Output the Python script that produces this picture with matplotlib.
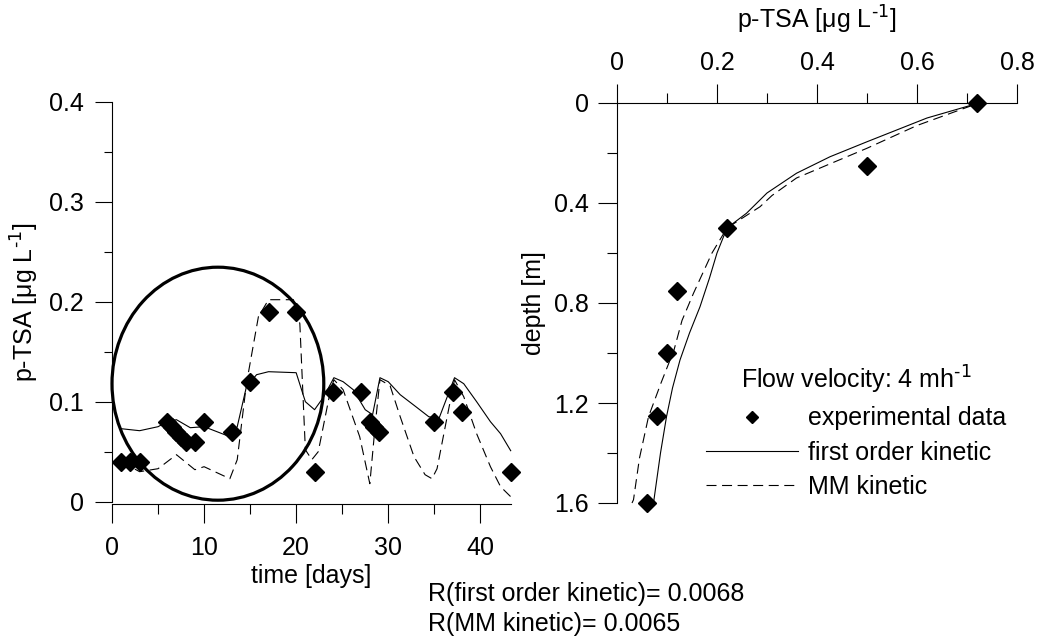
import numpy as np
import matplotlib.pyplot as plt
from matplotlib.patches import Ellipse
from matplotlib.lines import Line2D
from matplotlib.ticker import MultipleLocator, FormatStrFormatter

plt.rcParams['font.family'] = ['Liberation Sans', 'DejaVu Sans']
plt.rcParams['mathtext.default'] = 'regular'
plt.rcParams['font.size'] = 18

# left panel: p-TSA over time
t_obs = [1, 2, 3, 6, 6.5, 7, 7.5, 8, 9, 10, 13, 15, 17, 20, 22, 24, 27, 28, 28.5, 29, 35, 37, 38, 43.3]
c_obs = [0.04, 0.04, 0.04, 0.08, 0.075, 0.07, 0.065, 0.06, 0.06, 0.08, 0.07, 0.12, 0.19, 0.19,
         0.03, 0.11, 0.11, 0.08, 0.075, 0.07, 0.08, 0.11, 0.09, 0.03]

t_first = [1, 3, 5, 6, 7, 8.5, 10, 12.8, 13.6, 14.6, 15.7, 17, 20, 21, 22, 23, 24.1, 25.1, 26.2,
           27.5, 28.3, 29.1, 30, 31.3, 33, 34.4, 35.5, 37.2, 38.2, 39.6, 41.1, 42.2, 43.3]
c_first = [0.073, 0.071, 0.075, 0.08, 0.082, 0.074, 0.075, 0.065, 0.075, 0.115, 0.127, 0.13, 0.129,
           0.1, 0.092, 0.105, 0.124, 0.12, 0.112, 0.092, 0.087, 0.124, 0.12, 0.107, 0.095, 0.085,
           0.083, 0.124, 0.118, 0.1, 0.08, 0.068, 0.051]

t_mm = [1, 3, 5, 7, 9, 10, 12.8, 13.6, 14.6, 15.9, 17, 19.7, 20.4, 21, 21.7, 22.4, 23.7, 24.1, 25.1,
        26.9, 28, 28.6, 29.1, 30.2, 31.3, 32.8, 34, 34.75, 35.3, 36.4, 37.2, 38.2, 39.6, 41.1, 42.2, 43.3]
c_mm = [0.04, 0.03, 0.033, 0.047, 0.032, 0.035, 0.023, 0.042, 0.118, 0.185, 0.202, 0.202, 0.178,
        0.052, 0.042, 0.05, 0.11, 0.122, 0.112, 0.065, 0.018, 0.078, 0.122, 0.116, 0.085, 0.045,
        0.027, 0.023, 0.033, 0.085, 0.122, 0.105, 0.068, 0.035, 0.015, 0.005]

# right panel: depth profile
conc_obs = [0.72, 0.5, 0.22, 0.12, 0.10, 0.08, 0.06]
depth_obs = [0.0, 0.25, 0.5, 0.75, 1.0, 1.25, 1.6]

conc_first = [0.715, 0.62, 0.5, 0.426, 0.359, 0.30, 0.259, 0.22, 0.2, 0.185, 0.166, 0.145,
              0.126, 0.111, 0.099, 0.087, 0.073]
depth_first = [0.005, 0.06, 0.155, 0.215, 0.281, 0.36, 0.441, 0.5, 0.6, 0.7, 0.815, 0.92,
               1.028, 1.14, 1.255, 1.4, 1.6]

conc_mm = [0.71, 0.6, 0.5, 0.43, 0.359, 0.31, 0.286, 0.22, 0.19, 0.153, 0.13, 0.114, 0.088,
           0.063, 0.045, 0.033, 0.03]
depth_mm = [0.01, 0.09, 0.181, 0.24, 0.30, 0.37, 0.415, 0.5, 0.6, 0.761, 0.87, 0.988, 1.12,
            1.255, 1.42, 1.587, 1.6]

dash = (9, 5)
fig = plt.figure(figsize=(10.41, 6.41), dpi=100)

# ---- left
ax1 = fig.add_axes([112 / 1041, 137.3 / 641, 398.7 / 1041, 402 / 641])
ax1.plot(t_first, c_first, color='black', lw=0.8, clip_on=False)
ax1.plot(t_mm, c_mm, color='black', lw=0.8, dashes=dash, clip_on=False)
ax1.plot(t_obs, c_obs, 'D', color='black', ms=9.5, clip_on=False)
ax1.add_patch(Ellipse((11.5, 0.118), 23, 0.233, fill=False, lw=2.3, color='black', clip_on=False))
ax1.set_xlim(0, 43.3)
ax1.set_ylim(-0.002, 0.4)
for s in ['top', 'right']:
    ax1.spines[s].set_visible(False)
ax1.spines['left'].set_bounds(0, 0.4)
ax1.xaxis.set_major_locator(MultipleLocator(10))
ax1.xaxis.set_minor_locator(MultipleLocator(5))
ax1.yaxis.set_major_locator(MultipleLocator(0.1))
ax1.yaxis.set_minor_locator(MultipleLocator(0.05))
ax1.yaxis.set_major_formatter(FormatStrFormatter('%g'))
ax1.tick_params(axis='x', which='major', length=14, width=0.8, pad=9)
ax1.tick_params(axis='x', which='minor', length=7, width=0.8)
ax1.tick_params(axis='y', which='major', length=12, width=0.8, pad=8)
ax1.tick_params(axis='y', which='minor', length=6, width=0.8)
ax1.set_xlabel('time [days]', labelpad=3)
ax1.set_ylabel('p-TSA [μg L$^{\\text{-1}}$]', labelpad=6)

# ---- right
ax2 = fig.add_axes([617 / 1041, 138 / 641, 400 / 1041, 400 / 641])
ax2.plot(conc_first, depth_first, color='black', lw=0.8, clip_on=False)
ax2.plot(conc_mm, depth_mm, color='black', lw=0.8, dashes=dash, clip_on=False)
ax2.plot(conc_obs, depth_obs, 'D', color='black', ms=9.5, clip_on=False)
ax2.set_xlim(0, 0.8)
ax2.set_ylim(1.6, 0)
ax2.xaxis.tick_top()
ax2.xaxis.set_label_position('top')
for s in ['bottom', 'right']:
    ax2.spines[s].set_visible(False)
ax2.xaxis.set_major_locator(MultipleLocator(0.2))
ax2.xaxis.set_minor_locator(MultipleLocator(0.1))
ax2.yaxis.set_major_locator(MultipleLocator(0.4))
ax2.yaxis.set_minor_locator(MultipleLocator(0.2))
ax2.xaxis.set_major_formatter(FormatStrFormatter('%g'))
ax2.yaxis.set_major_formatter(FormatStrFormatter('%g'))
ax2.tick_params(which='major', length=14, width=0.8, pad=6)
ax2.tick_params(which='minor', length=7, width=0.8)
ax2.set_xlabel('p-TSA [μg L$^{\\text{-1}}$]', labelpad=16)
ax2.set_ylabel('depth [m]', labelpad=6)

handles = [Line2D([], [], marker='D', ls='none', color='black', ms=6),
           Line2D([], [], color='black', lw=0.8),
           Line2D([], [], color='black', lw=0.8, dashes=dash)]
ax2.legend(handles, ['experimental data', 'first order kinetic', 'MM kinetic'],
           title='Flow velocity: 4 mh$^{\\text{-1}}$', title_fontsize=18, frameon=False,
           handlelength=3.7, handletextpad=0.4, labelspacing=0.4,
           loc='lower right', bbox_to_anchor=(1.03, -0.045))

fig.text(428 / 1041, 1 - 594 / 641, 'R(first order kinetic)= 0.0068', va='center')
fig.text(428 / 1041, 1 - 624 / 641, 'R(MM kinetic)= 0.0065', va='center')

fig.savefig('out.png', dpi=100)
